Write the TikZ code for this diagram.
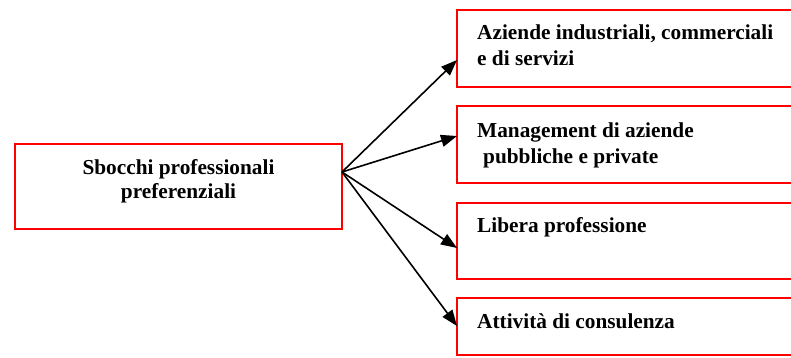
\documentclass[tikz,border=0pt]{standalone}
\usepackage{fontspec}
\setmainfont{Liberation Serif}
\usetikzlibrary{arrows.meta}
\begin{document}
\begin{tikzpicture}[x=1pt,y=-1pt,
  boxr/.style={draw=red,line width=2pt,fill=white},
  txt/.style={anchor=base west,inner sep=0pt,font=\fontsize{21.3}{26}\selectfont\bfseries},
  arr/.style={line width=1.6pt,-{Triangle[length=16pt,width=12pt]}}]
\useasboundingbox (0,0) rectangle (791,357);
\clip (0,0) rectangle (791,357);
% boxes
\draw[boxr] (15,144) rectangle (342,229);
\draw[boxr] (457,10) rectangle (810,87);
\draw[boxr] (457,106) rectangle (810,183);
\draw[boxr] (457,203) rectangle (810,279);
\draw[boxr] (457,298) rectangle (810,355);
% texts
\node[txt,anchor=base] (tLa) at (178.5,174) {Sbocchi professionali};
\node[txt,anchor=base] (tLb) at (178.5,198) {preferenziali};
\node[txt] (t1a) at (477,39) {Aziende industriali, commerciali};
\node[txt] (t1b) at (477,65) {e di servizi};
\node[txt] (t2a) at (477,137) {Management di aziende};
\node[txt] (t2b) at (483,163) {pubbliche e private};
\node[txt] (t3) at (477,232) {Libera professione};
\node[txt] (t4) at (477,328) {Attività di consulenza};
% connectors
\coordinate (s) at (342,172);
\coordinate (e1) at (457,60);
\coordinate (e2) at (457,136);
\coordinate (e3) at (457,248);
\coordinate (e4) at (457,326);
\draw[arr] (s) -- (e1);
\draw[arr] (s) -- (e2);
\draw[arr] (s) -- (e3);
\draw[arr] (s) -- (e4);
\end{tikzpicture}
\end{document}
